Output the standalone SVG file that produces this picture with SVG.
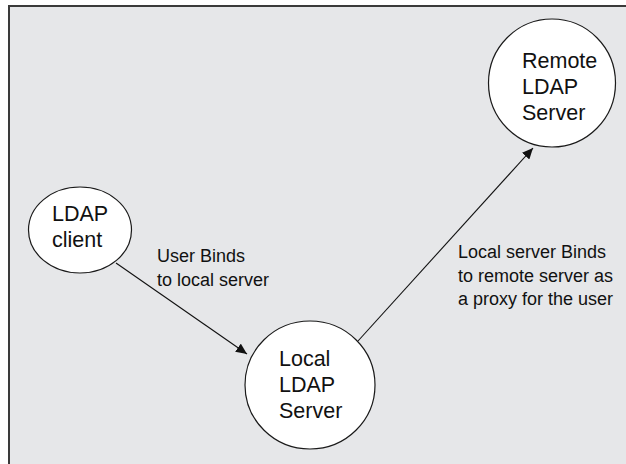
<svg xmlns="http://www.w3.org/2000/svg" width="626" height="464" viewBox="0 0 626 464">
<style>
.bg{fill:#e6e7e9;stroke:#3a3a3a;stroke-width:2}
.node{fill:#ffffff;stroke:#1a1a1a;stroke-width:1.2}
.nt{font-family:"Liberation Sans",Arial,sans-serif;font-size:21.5px;fill:#111}
.et{font-family:"Liberation Sans",Arial,sans-serif;font-size:18px;fill:#111}
.edge{stroke:#111;stroke-width:1.1;fill:none;marker-end:url(#ah)}
</style>
<defs>
<marker id="ah" markerUnits="userSpaceOnUse" markerWidth="12" markerHeight="10" refX="11" refY="5" orient="auto">
<path d="M0,0 L11,5 L0,10 Z" fill="#111"/>
</marker>
</defs>
<rect class="bg" x="9" y="6" width="630" height="470"/>
<g id="connectors">
<line class="edge" x1="116" y1="263" x2="247" y2="354"/>
<line class="edge" x1="358" y1="341" x2="533" y2="148"/>
<text class="et" x="157" y="262">User Binds</text>
<text class="et" x="157" y="285.5">to local server</text>
<text class="et" x="458" y="258">Local server Binds</text>
<text class="et" x="458" y="281.5">to remote server as</text>
<text class="et" x="458" y="305">a proxy for the user</text>
</g>
<g id="client">
<ellipse class="node" cx="80" cy="230" rx="51.5" ry="43"/>
<text class="nt" x="52" y="221">LDAP</text>
<text class="nt" x="52" y="247">client</text>
</g>
<g id="local">
<ellipse class="node" cx="310" cy="385" rx="65" ry="64"/>
<text class="nt" x="279" y="366">Local</text>
<text class="nt" x="279" y="392">LDAP</text>
<text class="nt" x="279" y="418">Server</text>
</g>
<g id="remote">
<ellipse class="node" cx="552" cy="83" rx="63.5" ry="64"/>
<text class="nt" x="522" y="68">Remote</text>
<text class="nt" x="522" y="94">LDAP</text>
<text class="nt" x="522" y="120">Server</text>
</g>
</svg>
